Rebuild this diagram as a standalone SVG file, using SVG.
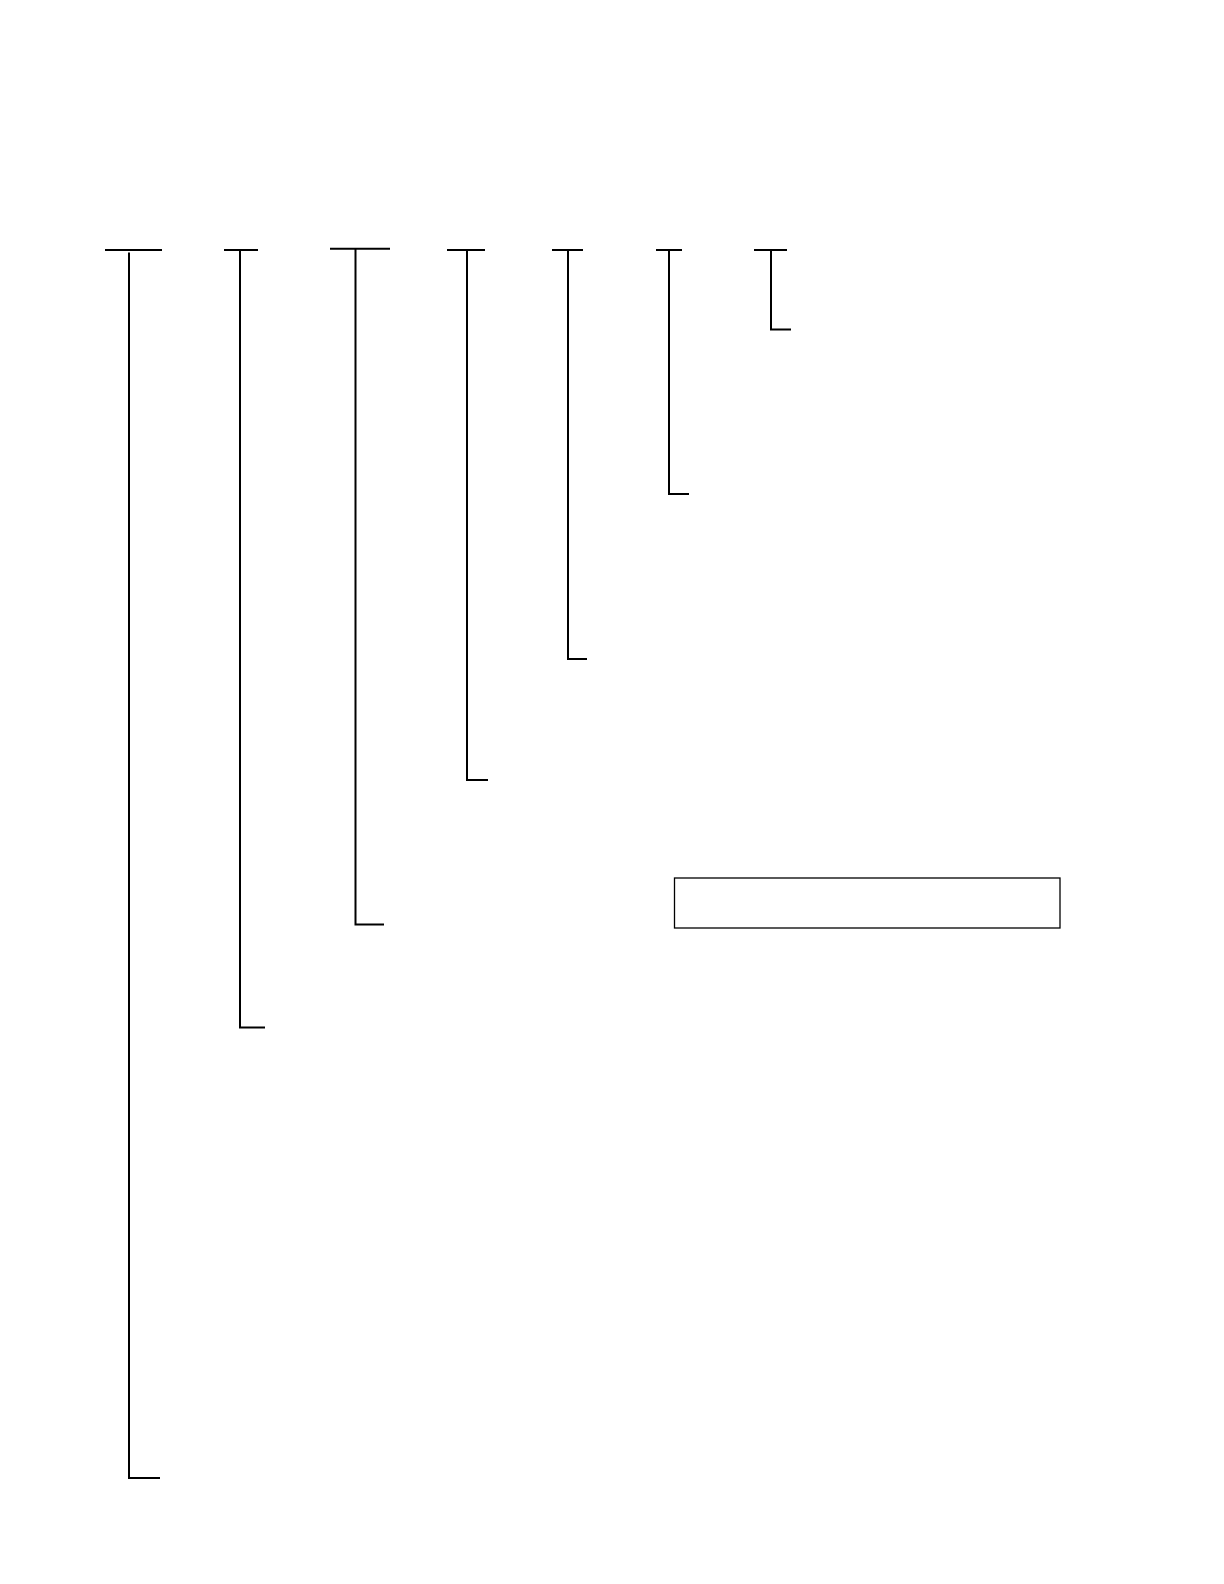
<svg xmlns="http://www.w3.org/2000/svg" width="1224" height="1584" viewBox="0 0 1224 1584">
<style>
.br{fill:none;stroke:#000;stroke-width:2;stroke-linecap:butt;stroke-linejoin:miter}
.box{fill:#fff;stroke:#000;stroke-width:1.3}
</style>
<rect width="1224" height="1584" fill="#fff"/>
<g id="connectors">
<g id="b1"><path class="br" d="M105 250H162"/><path class="br" d="M129 252.5V1478H160"/></g>
<g id="b2"><path class="br" d="M224 250H258"/><path class="br" d="M240 250V1027.5H265"/></g>
<g id="b3"><path class="br" d="M330 248.7H390"/><path class="br" d="M355.5 249V924.5H384"/></g>
<g id="b4"><path class="br" d="M447 250H485"/><path class="br" d="M467 250V780H488"/></g>
<g id="b5"><path class="br" d="M552 250H583"/><path class="br" d="M568 250V659H587"/></g>
<g id="b6"><path class="br" d="M656 250H682"/><path class="br" d="M669 250V494H689"/></g>
<g id="b7"><path class="br" d="M754 250H787"/><path class="br" d="M771 250V329.5H791"/></g>
</g>
<g id="box"><rect class="box" x="674.5" y="878" width="385.5" height="50"/></g>
</svg>
